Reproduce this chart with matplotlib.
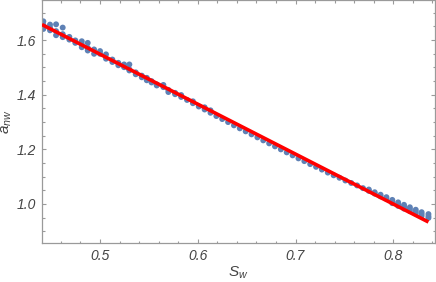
import numpy as np
import matplotlib
matplotlib.use("Agg")
import matplotlib.pyplot as plt
from matplotlib.ticker import MultipleLocator

plt.rcParams["font.family"] = ["Liberation Sans", "DejaVu Sans"]
plt.rcParams["font.style"] = "italic"
plt.rcParams["mathtext.fontset"] = "custom"
plt.rcParams["mathtext.it"] = "Liberation Sans:italic"
plt.rcParams["mathtext.rm"] = "Liberation Sans"

# Scatter columns: one S_w value, several a_nw samples each.
sw_cols = [0.442, 0.4488, 0.455, 0.4618, 0.4686, 0.4747, 0.4813, 0.4874,
           0.4939, 0.500, 0.5061, 0.5126, 0.5187, 0.5246, 0.530, 0.5365,
           0.5427, 0.5478, 0.5527, 0.558, 0.5648, 0.5699, 0.5768,
           0.583, 0.589, 0.595, 0.601, 0.607, 0.613, 0.619, 0.625, 0.631,
           0.637, 0.643, 0.649, 0.655, 0.661, 0.667, 0.673, 0.679, 0.685,
           0.691, 0.697, 0.703, 0.709, 0.715, 0.721, 0.727, 0.733, 0.739,
           0.745, 0.751, 0.757, 0.763, 0.769, 0.775, 0.781, 0.787, 0.793,
           0.799, 0.805, 0.811, 0.817, 0.823, 0.829, 0.836]
anw_cols = [
    [1.669, 1.655, 1.641], [1.657, 1.646, 1.636], [1.658, 1.633, 1.618],
    [1.646, 1.622, 1.611], [1.612, 1.602], [1.599, 1.590],
    [1.596, 1.585, 1.574], [1.590, 1.572, 1.562], [1.566, 1.550],
    [1.560, 1.550], [1.548, 1.532], [1.529, 1.520], [1.517, 1.508],
    [1.511, 1.501], [1.511, 1.493, 1.489], [1.482, 1.475], [1.470, 1.464],
    [1.462, 1.453], [1.450, 1.445], [1.438, 1.434], [1.436, 1.428],
    [1.418, 1.410], [1.407, 1.402],
    [1.399, 1.392], [1.381], [1.376, 1.369], [1.357], [1.354, 1.346],
    [1.343, 1.334], [1.322], [1.311], [1.300], [1.288], [1.277], [1.266],
    [1.255], [1.244], [1.233], [1.222], [1.211], [1.200], [1.189], [1.178],
    [1.167], [1.157], [1.146], [1.136], [1.126], [1.115], [1.105], [1.096],
    [1.086], [1.077], [1.068], [1.058], [1.053, 1.048], [1.043, 1.038],
    [1.034, 1.028], [1.025, 1.019], [1.015, 1.009, 1.003],
    [1.006, 0.999, 0.993], [0.997, 0.990, 0.983], [0.988, 0.981, 0.974],
    [0.979, 0.972, 0.965], [0.970, 0.963, 0.956], [0.963, 0.955, 0.949],
]

# Linear fit line (end points)
fit_sw = [0.4406, 0.836]
fit_anw = [1.657, 0.934]

sw = np.concatenate([[x] * len(ys) for x, ys in zip(sw_cols, anw_cols)])
anw = np.concatenate(anw_cols)

frame_c = "#9a9a9a"
text_c = "#444444"

fig = plt.figure(figsize=(4.36, 2.82), dpi=100)
ax = fig.add_axes([0.0963, 0.1372, 0.9014, 0.8618])

ax.scatter(sw, anw, s=18, color="#5e81b5", edgecolors="none", zorder=2)
ax.plot(fit_sw, fit_anw, color="#ff0000", lw=2.6, zorder=3,
        solid_capstyle="butt")

ax.set_xlim(0.4406, 0.8427)
ax.set_ylim(0.856, 1.746)

ax.xaxis.set_major_locator(MultipleLocator(0.1))
ax.xaxis.set_minor_locator(MultipleLocator(0.02))
ax.yaxis.set_major_locator(MultipleLocator(0.2))
ax.yaxis.set_minor_locator(MultipleLocator(0.05))
ax.xaxis.set_major_formatter(plt.FuncFormatter(lambda v, p: f"{v:.1f}"))
ax.yaxis.set_major_formatter(plt.FuncFormatter(lambda v, p: f"{v:.1f}"))

ax.tick_params(which="both", direction="in", top=True, right=True,
               color=frame_c, width=0.8, labelcolor=text_c, labelsize=10)
ax.tick_params(which="major", length=3.2, pad=4)
ax.tick_params(which="minor", length=1.8)
for sp in ax.spines.values():
    sp.set_color(frame_c)
    sp.set_linewidth(0.9)

ax.set_xlabel(r"$S_w$", fontsize=11, color=text_c, labelpad=1)
ax.set_ylabel(r"$a_{nw}$", fontsize=11, color=text_c, labelpad=2)

fig.savefig("out.png", dpi=100)
